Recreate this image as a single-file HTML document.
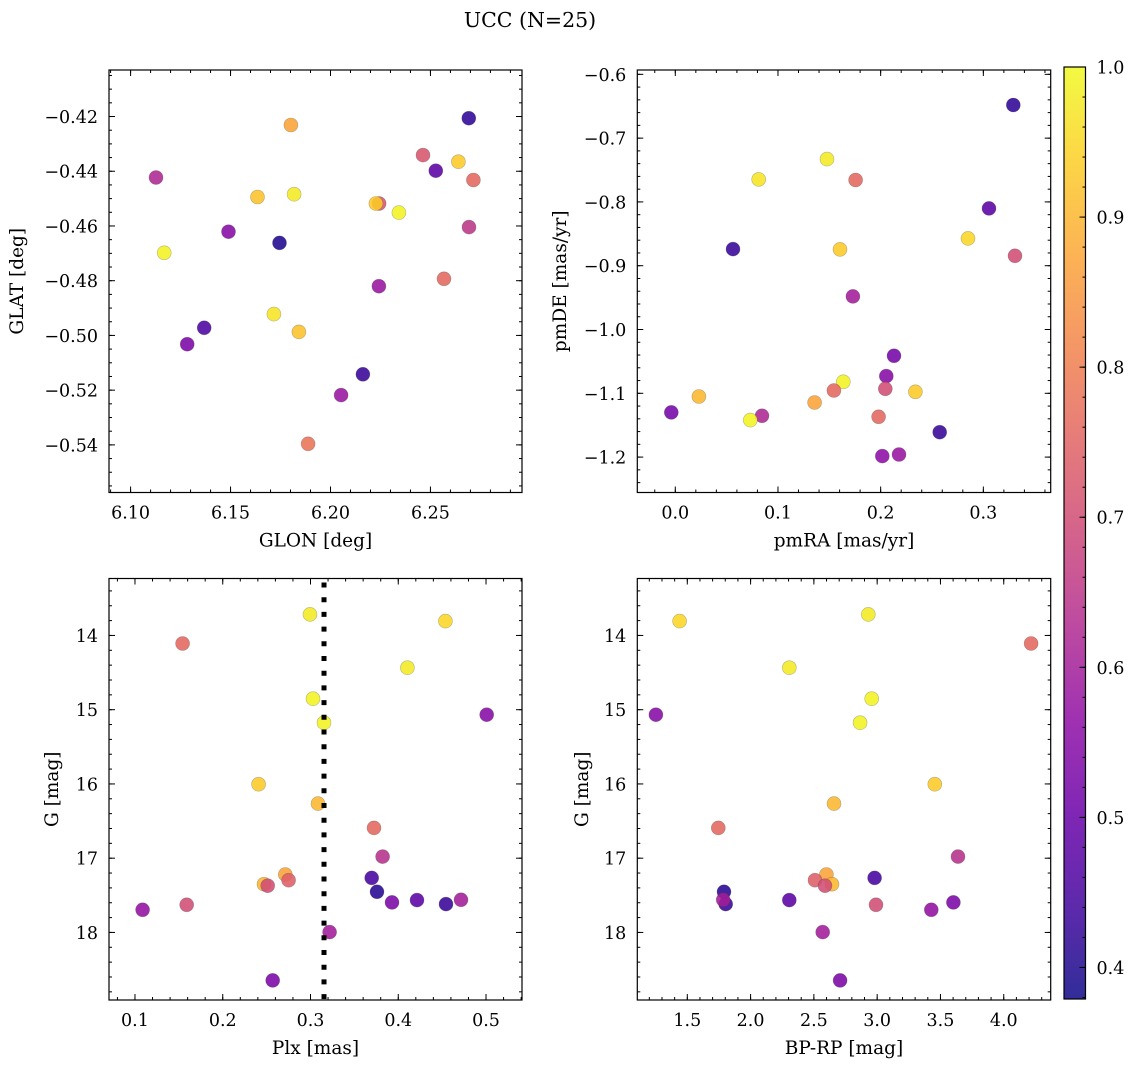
<!DOCTYPE html>
<html><head><meta charset="utf-8">
<style>
html,body{margin:0;padding:0;background:#fff;}
svg{display:block;font-family:"DejaVu Serif","Liberation Serif",serif;}
</style></head>
<body>
<svg id="fig" width="1136" height="1067" viewBox="0 0 1136 1067" xmlns="http://www.w3.org/2000/svg">
<rect width="1136" height="1067" fill="#fff"/>
<text x="530" y="27" font-size="20.5" text-anchor="middle">UCC (N=25)</text>
</svg>
<script>
// ---- data ----
const glon = [6.2692,6.1802,6.2463,6.2640,6.2527,6.2715,6.1127,6.1635,6.1818,6.2243,6.2227,6.2342,6.2693,6.1490,6.1745,6.1168,6.2568,6.2242,6.1717,6.1842,6.1368,6.1283,6.2162,6.2053,6.1888];
const glat = [-0.4206,-0.4231,-0.4341,-0.4365,-0.4398,-0.4432,-0.4423,-0.4494,-0.4484,-0.4518,-0.4518,-0.4551,-0.4604,-0.4621,-0.4662,-0.4698,-0.4793,-0.4820,-0.4922,-0.4987,-0.4972,-0.5032,-0.5142,-0.5218,-0.5396];
const probTop = [0.42,0.87,0.72,0.93,0.48,0.76,0.62,0.92,0.98,0.72,0.93,0.99,0.65,0.55,0.40,0.99,0.76,0.58,0.97,0.92,0.46,0.53,0.43,0.58,0.78];

const pmra = [0.3292,0.1477,0.0812,0.1756,0.3055,0.2851,0.3308,0.0562,0.1604,0.1730,0.2130,0.2055,0.1636,0.2045,0.1545,0.2338,0.0230,0.1357,-0.0039,0.0844,0.0730,0.1980,0.2575,0.2016,0.2179];
const pmde = [-0.648,-0.7328,-0.7647,-0.7657,-0.8101,-0.8572,-0.8844,-0.8739,-0.8744,-0.9481,-1.0412,-1.0731,-1.082,-1.093,-1.0956,-1.0977,-1.105,-1.1144,-1.13,-1.1353,-1.142,-1.1369,-1.161,-1.1985,-1.196];
const probPm = [0.42,0.98,0.97,0.76,0.48,0.95,0.70,0.43,0.93,0.60,0.52,0.55,0.99,0.70,0.76,0.93,0.90,0.87,0.52,0.62,0.99,0.76,0.43,0.56,0.58];

const plx = [0.2994,0.4537,0.1543,0.4104,0.3028,0.3154,0.5008,0.2409,0.3085,0.3724,0.3822,0.3697,0.2713,0.2751,0.2470,0.2512,0.3758,0.3929,0.4214,0.4544,0.4715,0.1087,0.1589,0.3218,0.2569];
const bprp = [2.930,1.4394,4.216,2.306,2.957,2.865,1.252,3.455,2.659,1.745,3.639,2.980,2.599,2.509,2.643,2.588,1.790,3.602,2.306,1.803,1.784,3.428,2.991,2.570,2.707];
const gmag = [13.717,13.807,14.108,14.435,14.852,15.175,15.067,16.004,16.265,16.592,16.978,17.265,17.220,17.296,17.350,17.370,17.453,17.596,17.565,17.619,17.561,17.695,17.628,17.996,18.646];
const probPhot = [0.98,0.95,0.76,0.98,0.99,0.99,0.55,0.93,0.90,0.76,0.64,0.45,0.87,0.74,0.90,0.70,0.41,0.53,0.48,0.43,0.60,0.57,0.70,0.60,0.53];
const plxMedian = [0.3154];
const cbarTicks = [0.4,0.5,0.6,0.7,0.8,0.9,1.0];

// ---- rendering ----
const NS = "http://www.w3.org/2000/svg";
const svg = document.getElementById('fig');
const VMIN = 0.379, VMAX = 1.0;
const TICKFS = 17.5, LABFS = 18.5;
const stops = [[13,8,135],[65,4,157],[106,0,168],[143,13,164],[177,42,144],[204,71,120],[225,100,98],[242,132,75],[252,166,54],[252,206,37],[240,249,33]];
function plasma(t){t=Math.max(0,Math.min(1,t));const f=t*10,i=Math.min(9,Math.floor(f)),u=f-i;const a=stops[i],b=stops[i+1];
  return 'rgb('+[0,1,2].map(k=>Math.round(a[k]+(b[k]-a[k])*u)).join(',')+')';}
function mk(tag,attrs,parent){const e=document.createElementNS(NS,tag);for(const k in attrs)e.setAttribute(k,attrs[k]);(parent||svg).appendChild(e);return e;}
function fmt(v,d){const s=Math.abs(v).toFixed(d);return (v<-1e-9?'\u2212':'')+s;}
function ticks(lo,hi,step){const a=[];const s=Math.ceil(lo/step-1e-6);for(let i=s;i*step<=hi+1e-9;i++)a.push(+(i*step).toFixed(6));return a;}

function panel(o){
  const g=mk('g',{});
  
  
  const sx=v=>o.x0+(v-o.xmin)/(o.xmax-o.xmin)*(o.x1-o.x0);
  const sy=v=>o.y1-(v-o.ymin)/(o.ymax-o.ymin)*(o.y1-o.y0);
  const syv=o.invert?(v=>o.y0+(v-o.ymin)/(o.ymax-o.ymin)*(o.y1-o.y0)):sy;
  const pts=mk('g',{},g);
  
  
  for(let i=0;i<o.xs.length;i++){
    const c=mk('circle',{cx:sx(o.xs[i]).toFixed(1),cy:syv(o.ys[i]).toFixed(1),r:7,fill:plasma((o.cs[i]-VMIN)/(VMAX-VMIN)),'fill-opacity':0.88,stroke:'rgba(60,60,60,0.35)','stroke-width':0.6},pts);
    
    
  }
  if(o.vline){const L=mk('line',{x1:sx(o.vline[0]),x2:sx(o.vline[0]),y1:o.y0+4,y2:o.y1,stroke:'#000','stroke-width':5,'stroke-dasharray':'5 9.7'},g);
    
    }
  const f=mk('rect',{x:o.x0,y:o.y0,width:o.x1-o.x0,height:o.y1-o.y0,fill:'none',stroke:'#000','stroke-width':1.2},g);
  
  
  const tg=mk('g',{stroke:'#000','stroke-width':1},g);
  
  
  ticks(o.xmin,o.xmax,o.xminor).forEach(v=>{const X=sx(v);mk('line',{x1:X,x2:X,y1:o.y1,y2:o.y1-3},tg);mk('line',{x1:X,x2:X,y1:o.y0,y2:o.y0+3},tg);});
  ticks(o.ymin,o.ymax,o.yminor).forEach(v=>{const Y=syv(v);mk('line',{x1:o.x0,x2:o.x0+3,y1:Y,y2:Y},tg);mk('line',{x1:o.x1,x2:o.x1-3,y1:Y,y2:Y},tg);});
  const lg=mk('g',{'font-size':TICKFS,fill:'#000'},g);
  
  
  ticks(o.xmin,o.xmax,o.xmajor).forEach(v=>{const X=sx(v);mk('line',{x1:X,x2:X,y1:o.y1,y2:o.y1-6},tg);mk('line',{x1:X,x2:X,y1:o.y0,y2:o.y0+6},tg);
    const t=mk('text',{x:X,y:o.y1+26,'text-anchor':'middle'},lg);t.textContent=fmt(v,o.xd);});
  ticks(o.ymin,o.ymax,o.ymajor).forEach(v=>{const Y=syv(v);mk('line',{x1:o.x0,x2:o.x0+6,y1:Y,y2:Y},tg);mk('line',{x1:o.x1,x2:o.x1-6,y1:Y,y2:Y},tg);
    const t=mk('text',{x:o.x0-11,y:Y+6.5,'text-anchor':'end'},lg);t.textContent=fmt(v,o.yd);});
  const xl=mk('text',{x:(o.x0+o.x1)/2,y:o.y1+54,'text-anchor':'middle','font-size':LABFS},g);xl.textContent=o.xlabel;
  
  
  const yl=mk('text',{x:0,y:0,'text-anchor':'middle','font-size':LABFS,transform:'translate('+o.ylx+','+((o.y0+o.y1)/2)+') rotate(-90)'},g);yl.textContent=o.ylabel;
  
  
}

panel({name:'glon-glat-panel',x0:109,x1:522,y0:70,y1:492.5,xmin:6.0892,xmax:6.2958,ymin:-0.5574,ymax:-0.403,
  xs:glon,ys:glat,cs:probTop,xmajor:0.05,xminor:0.01,ymajor:0.02,yminor:0.005,xd:2,yd:2,xlabel:'GLON [deg]',ylabel:'GLAT [deg]',ylx:23});
panel({name:'pm-panel',x0:637.3,x1:1050.7,y0:70,y1:492.5,xmin:-0.037,xmax:0.3656,ymin:-1.2555,ymax:-0.5932,
  xs:pmra,ys:pmde,cs:probPm,xmajor:0.1,xminor:0.02,ymajor:0.1,yminor:0.02,xd:1,yd:1,xlabel:'pmRA [mas/yr]',ylabel:'pmDE [mas/yr]',ylx:566});
panel({name:'plx-g-panel',x0:109,x1:522,y0:578.5,y1:1000,xmin:0.0704,xmax:0.541,ymin:13.233,ymax:18.91,invert:true,
  xs:plx,ys:gmag,cs:probPhot,xmajor:0.1,xminor:0.02,ymajor:1,yminor:0.2,xd:1,yd:0,xlabel:'Plx [mas]',ylabel:'G [mag]',ylx:58,vline:plxMedian});
panel({name:'cmd-panel',x0:637.3,x1:1050.7,y0:578.5,y1:1000,xmin:1.105,xmax:4.371,ymin:13.233,ymax:18.91,invert:true,
  xs:bprp,ys:gmag,cs:probPhot,xmajor:0.5,xminor:0.1,ymajor:1,yminor:0.2,xd:1,yd:0,xlabel:'BP-RP [mag]',ylabel:'G [mag]',ylx:588});

(function(){
  const cx0=1064,cx1=1085.5,cy0=67,cy1=999;
  const g=mk('g',{});
  
  
  const defs=mk('defs',{},g);
  const lgd=mk('linearGradient',{id:'cb',x1:0,y1:1,x2:0,y2:0},defs);
  for(let i=0;i<=20;i++){mk('stop',{offset:(i/20),'stop-color':plasma(i/20),'stop-opacity':0.85},lgd);}
  mk('rect',{x:cx0,y:cy0,width:cx1-cx0,height:cy1-cy0,fill:'url(#cb)',stroke:'#000','stroke-width':1.2},g);
  const sy=v=>cy1-(v-VMIN)/(VMAX-VMIN)*(cy1-cy0);
  ticks(VMIN,VMAX,0.02).forEach(v=>{mk('line',{x1:cx1,x2:cx1-3,y1:sy(v),y2:sy(v),stroke:'#000'},g);});
  cbarTicks.forEach(v=>{const Y=sy(v);mk('line',{x1:cx1,x2:cx1-6,y1:Y,y2:Y,stroke:'#000'},g);
    const t=mk('text',{x:cx1+11,y:Y+6.5,'font-size':TICKFS},g);t.textContent=v.toFixed(1);
    
    });
})();
</script>
</body></html>
